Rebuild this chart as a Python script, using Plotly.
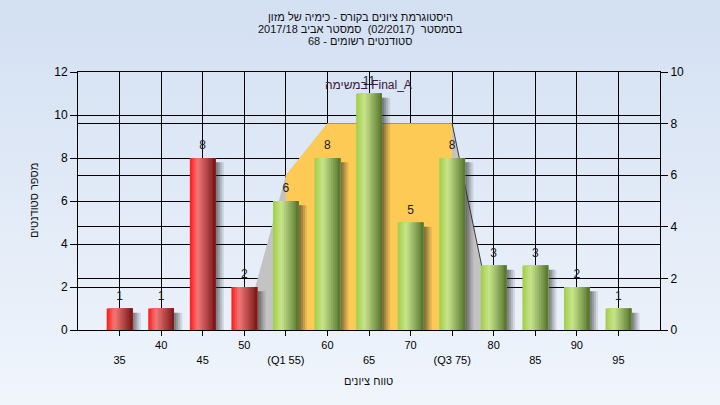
import base64
import plotly.graph_objects as go

# ---- data ----
categories = ["35", "40", "45", "50", "(Q1 55)", "60", "65", "70", "(Q3 75)", "80", "85", "90", "95"]
counts = [1, 1, 8, 2, 6, 8, 11, 5, 8, 3, 3, 2, 1]
q1_category = "(Q1 55)"

# distribution band (right axis)
band_outer_cats = ["50", "(Q1 55)", "60", "65", "70", "(Q3 75)", "80"]
band_outer_vals = [0.1, 6, 8, 8, 8, 8, 0.25]
band_inner_cats = ["(Q1 55)", "60", "65", "70", "(Q3 75)"]
band_inner_vals = [6, 8, 8, 8, 8]
band_edge_cats = ["(Q3 75)", "80"]
band_edge_vals = [8, 0.25]

title_lines = [
    "היסטוגרמת ציונים בקורס - כימיה של מזון",
    "בסמסטר  (02/2017)  סמסטר אביב 2017/18",
    "סטודנטים רשומים - 68",
]
x_title = "טווח ציונים"
y_title = "מספר סטודנטים"
task_note = "במשימה Final_A"

# ---- helpers ----
pos = {c: i for i, c in enumerate(categories)}
xs = [pos[c] for c in categories]
q1_pos = pos[q1_category]

FONT = "Liberation Sans, Arial, sans-serif"
W = 0.62
NS = 14
sw = W / NS

red_stops = [(0.0, (255, 24, 24)), (0.3, (242, 120, 120)), (1.0, (120, 22, 22))]
green_stops = [(0.0, (160, 206, 70)), (0.33, (200, 228, 140)), (1.0, (84, 116, 44))]


def grad(stops, t):
    for (t0, c0), (t1, c1) in zip(stops[:-1], stops[1:]):
        if t0 <= t <= t1:
            f = (t - t0) / (t1 - t0)
            return "rgb(%d,%d,%d)" % tuple(round(a + (b - a) * f) for a, b in zip(c0, c1))
    return "rgb(%d,%d,%d)" % stops[-1][1]


fig = go.Figure()

# background bands on primary (right) axis
fig.add_trace(go.Scatter(x=[pos[c] for c in band_outer_cats], y=band_outer_vals, mode="lines",
                         line=dict(width=0, color="rgba(0,0,0,0)"), fill="tozeroy",
                         fillcolor="#c3c3c3", yaxis="y", hoverinfo="skip"))
fig.add_trace(go.Scatter(x=[pos[c] for c in band_inner_cats], y=band_inner_vals, mode="lines",
                         line=dict(width=0, color="rgba(0,0,0,0)"), fill="tozeroy",
                         fillcolor="#fdca55", yaxis="y", hoverinfo="skip"))
fig.add_trace(go.Scatter(x=[pos[c] for c in band_edge_cats], y=band_edge_vals, mode="lines",
                         line=dict(width=1, color="#3a3a3a"), yaxis="y", hoverinfo="skip"))

# soft shadows
shadow_vals = [v - 0.2 for v in counts]
for off, a in [(0.2, 0.12), (0.15, 0.16), (0.1, 0.22), (0.05, 0.22)]:
    fig.add_trace(go.Bar(x=xs, y=shadow_vals, width=W, offset=-W / 2 + off,
                         marker=dict(color="rgba(40,40,40,%g)" % a, line=dict(width=0)),
                         yaxis="y2", hoverinfo="skip"))

# cylinder bars made of slices
for i in range(NS):
    t = (i + 0.5) / NS
    cols = [grad(red_stops, t) if x < q1_pos else grad(green_stops, t) for x in xs]
    fig.add_trace(go.Bar(x=xs, y=counts, width=W - i * sw, offset=-W / 2 + i * sw,
                         marker=dict(color=cols, line=dict(width=0)), yaxis="y2", hoverinfo="skip"))

# value labels (invisible marker pushes text a little higher)
fig.add_trace(go.Scatter(x=xs, y=counts, mode="markers+text", text=[str(v) for v in counts],
                         marker=dict(size=8, color="rgba(0,0,0,0)"),
                         textposition="top center", textfont=dict(size=12, color="#1a1a2a", family=FONT),
                         yaxis="y2", hoverinfo="skip"))

# staggered tick labels
ticktext = [c if i % 2 == 1 else "<br>" + c for i, c in enumerate(categories)]

# gradient page background
svg = ('<svg xmlns="http://www.w3.org/2000/svg" width="720" height="405">'
       '<defs><linearGradient id="g" x1="0" y1="0" x2="0" y2="1">'
       '<stop offset="0" stop-color="#d3e0f2"/><stop offset="1" stop-color="#f0f5fc"/>'
       '</linearGradient></defs><rect width="720" height="405" fill="url(#g)"/></svg>')
uri = "data:image/svg+xml;base64," + base64.b64encode(svg.encode()).decode()

L, R, T, B = 78, 60, 72, 75
PW, PH = 720 - L - R, 405 - T - B


def px_x(px):
    return (px - L) / PW


def px_y(py):
    return (405 - B - py) / PH


annotations = []
for line, py in zip(title_lines, [17, 29, 41]):
    annotations.append(dict(text=line, xref="paper", yref="paper", x=px_x(360), y=px_y(py),
                            showarrow=False, xanchor="center", yanchor="middle",
                            font=dict(size=11, color="#111", family=FONT)))
annotations.append(dict(text=x_title, xref="paper", yref="paper", x=px_x(368), y=px_y(381),
                        showarrow=False, xanchor="center", yanchor="middle",
                        font=dict(size=11, color="#111", family=FONT)))
annotations.append(dict(text=y_title, xref="paper", yref="paper", x=px_x(34), y=px_y(201),
                        showarrow=False, xanchor="center", yanchor="middle", textangle=-90,
                        font=dict(size=11, color="#111", family=FONT)))
annotations.append(dict(text=task_note, xref="paper", yref="paper", x=px_x(368), y=px_y(85),
                        showarrow=False, xanchor="center", yanchor="middle",
                        font=dict(size=12, color="#3a1838", family=FONT)))

fig.update_layout(
    width=720, height=405,
    margin=dict(l=L, r=R, t=T, b=B),
    paper_bgcolor="#e2eaf7",
    plot_bgcolor="#b4b4b4",
    showlegend=False,
    barmode="overlay",
    hovermode=False,
    font=dict(family=FONT, size=12, color="#000"),
    images=[dict(source=uri, xref="paper", yref="paper", x=px_x(0), y=px_y(0),
                 sizex=720 / PW, sizey=405 / PH, sizing="stretch", layer="below",
                 xanchor="left", yanchor="top")],
    annotations=annotations,
    xaxis=dict(range=[-1, 13], tickvals=xs, ticktext=ticktext, showgrid=True, gridcolor="#000",
               gridwidth=1, showline=True, linecolor="#000", linewidth=1, mirror=True,
               ticks="outside", ticklen=5, tickcolor="#000", tickfont=dict(size=11), zeroline=False),
    yaxis=dict(range=[0, 10], dtick=2, side="right", showgrid=True, gridcolor="#000", gridwidth=1,
               showline=True, linecolor="#000", ticks="outside", ticklen=7, tickcolor="#000",
               tickfont=dict(size=12), zeroline=False),
    yaxis2=dict(range=[0, 12], dtick=2, side="left", overlaying="y", showgrid=True, gridcolor="#000",
                gridwidth=1, showline=True, linecolor="#000", ticks="outside", ticklen=7,
                tickcolor="#000", tickfont=dict(size=12), zeroline=False),
)

fig.write_html("out.html", config={"displayModeBar": False},
               post_script="document.body.style.margin='0';document.body.style.padding='0';")
